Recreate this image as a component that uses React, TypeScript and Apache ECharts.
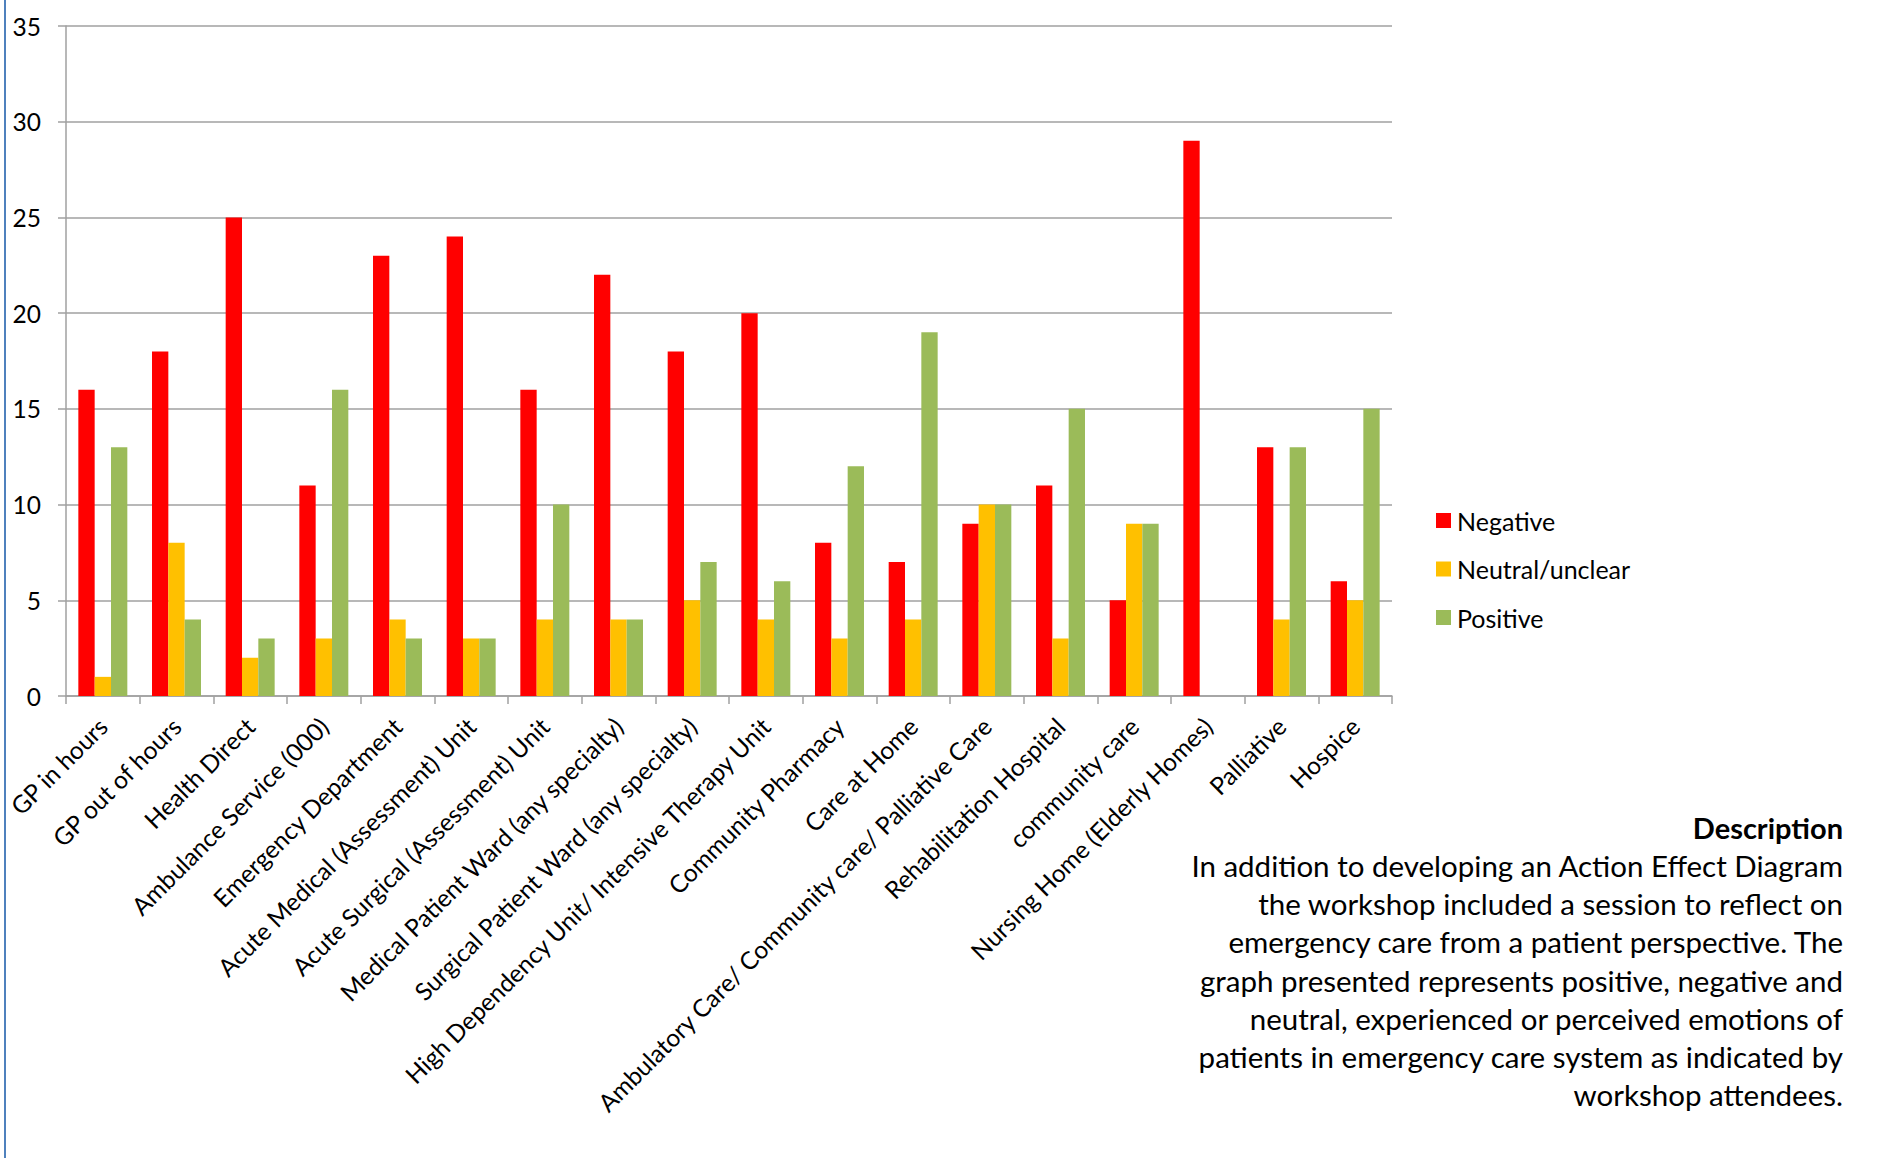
import React, { useEffect, useRef } from "react";
import * as echarts from "echarts";

// Service settings along the patient pathway
const categories: string[] = [
  "GP in hours",
  "GP out of hours",
  "Health Direct",
  "Ambulance Service (000)",
  "Emergency Department",
  "Acute Medical (Assessment) Unit",
  "Acute Surgical (Assessment) Unit",
  "Medical Patient Ward (any specialty)",
  "Surgical Patient Ward (any specialty)",
  "High Dependency Unit/ Intensive Therapy Unit",
  "Community Pharmacy",
  "Care at Home",
  "Ambulatory Care/ Community care/ Palliative Care",
  "Rehabilitation Hospital",
  "community care",
  "Nursing Home (Elderly Homes)",
  "Palliative",
  "Hospice",
];

// Counts of emotions reported per setting
const negative: number[] = [16, 18, 25, 11, 23, 24, 16, 22, 18, 20, 8, 7, 9, 11, 5, 29, 13, 6];
const neutral: number[] = [1, 8, 2, 3, 4, 3, 4, 4, 5, 4, 3, 4, 10, 3, 9, 0, 4, 5];
const positive: number[] = [13, 4, 3, 16, 3, 3, 10, 4, 7, 6, 12, 19, 10, 15, 9, 0, 13, 15];

const seriesNames: string[] = ["Negative", "Neutral/unclear", "Positive"];
const seriesColors: string[] = ["#ff0000", "#ffc000", "#9bbb59"];

const yTicks = { min: 0, max: 35, interval: 5 };

const descriptionTitle = "Description";
const descriptionLines: string[] = [
  "In addition to developing an Action Effect Diagram",
  "the workshop included a session to reflect on",
  "emergency care from a patient perspective. The",
  "graph presented represents positive, negative and",
  "neutral, experienced or perceived emotions of",
  "patients in emergency care system as indicated by",
  "workshop attendees.",
];

const FONT = "Lato, 'Open Sans', sans-serif";
const GRID_GREY = "#a0a0a0";

export default function App() {
  const ref = useRef<HTMLDivElement>(null);

  useEffect(() => {
    if (!ref.current) return;
    const chart = echarts.init(ref.current, undefined, { renderer: "svg" });
    const values = [negative, neutral, positive];

    chart.setOption({
      animation: false,
      backgroundColor: "#ffffff",
      textStyle: { fontFamily: FONT },
      grid: { left: 66, right: 485, top: 26, bottom: 462, containLabel: false },
      legend: {
        orient: "vertical",
        left: 1431,
        top: 503,
        itemWidth: 15,
        itemHeight: 15,
        itemGap: 23.5,
        icon: "rect",
        textStyle: { fontSize: 25, color: "#000", fontFamily: FONT, padding: [0, 0, 0, 1] },
        data: seriesNames,
      },
      xAxis: {
        type: "category",
        data: categories,
        axisLine: { show: true, lineStyle: { color: GRID_GREY, width: 1.5 } },
        axisTick: { show: true, length: 8, alignWithLabel: false, lineStyle: { color: GRID_GREY, width: 1.5 } },
        axisLabel: {
          interval: 0,
          rotate: 45,
          fontSize: 24.5,
          color: "#000",
          fontFamily: FONT,
          margin: 26,
        },
      },
      yAxis: {
        type: "value",
        min: yTicks.min,
        max: yTicks.max,
        interval: yTicks.interval,
        axisLine: { show: true, lineStyle: { color: GRID_GREY, width: 1.5 } },
        axisTick: { show: true, length: 8, lineStyle: { color: GRID_GREY, width: 1.5 } },
        axisLabel: { fontSize: 24.5, color: "#000", fontFamily: FONT, margin: 25 },
        splitLine: { show: true, lineStyle: { color: GRID_GREY, width: 1.5 } },
      },
      series: seriesNames.map((name, i) => ({
        name,
        type: "bar",
        data: values[i],
        barGap: "0%",
        barCategoryGap: "33.5%",
        itemStyle: { color: seriesColors[i] },
      })),
      graphic: [
        {
          type: "rect",
          left: 4,
          top: 0,
          shape: { width: 2, height: 1158 },
          style: { fill: "#4f81bd" },
        },
        {
          type: "text",
          x: 1843,
          y: 827,
          style: {
            text: descriptionTitle,
            font: `bold 29px ${FONT}`,
            fill: "#000",
            align: "right",
            verticalAlign: "middle",
          },
        },
        {
          type: "text",
          x: 1843,
          y: 846,
          style: {
            text: descriptionLines.join("\n"),
            font: `29.5px ${FONT}`,
            lineHeight: 38.3,
            fill: "#000",
            align: "right",
            verticalAlign: "top",
          },
        },
      ],
    });

    return () => chart.dispose();
  }, []);

  return (
    <div
      ref={ref}
      style={{ position: "absolute", left: 0, top: 0, width: 1877, height: 1158 }}
    />
  );
}
